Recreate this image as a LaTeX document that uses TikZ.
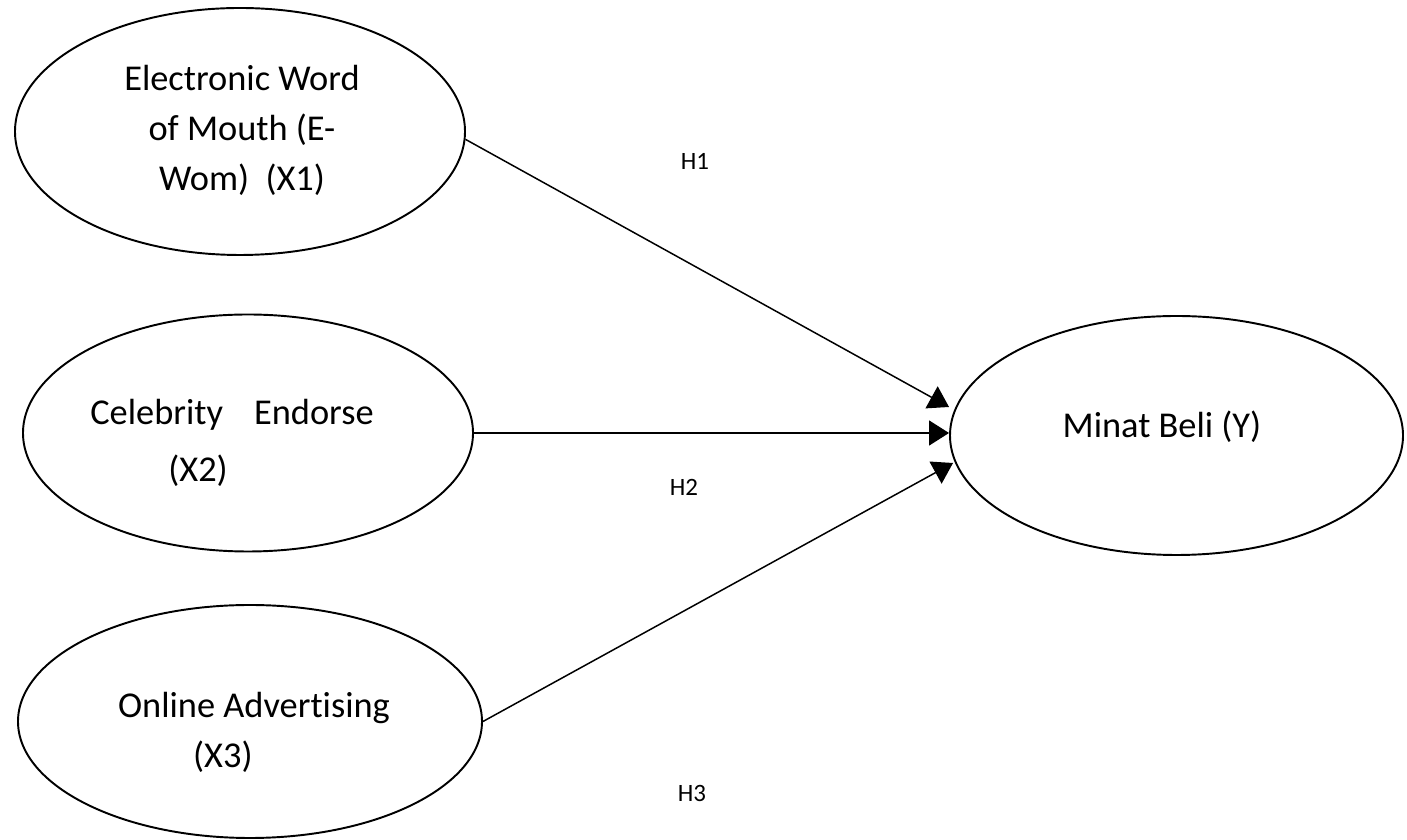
\documentclass[tikz,border=0pt]{standalone}
\usepackage{fontspec}
\setmainfont{Carlito}[Ligatures=NoCommon]
\usetikzlibrary{shapes.geometric,arrows.meta}

\begin{document}
\begin{tikzpicture}[
  latent/.style={draw=black, line width=1.1pt, ellipse, inner sep=0pt},
  vartext/.style={font=\fontsize{20.7pt}{28.45pt}\selectfont, inner sep=0pt},
  hyp/.style={font=\fontsize{14.2pt}{17pt}\selectfont, inner sep=0pt},
  path/.style={line width=0.85pt, -{Triangle[length=0.4cm,width=0.5cm]}}]
\useasboundingbox (0,0) rectangle (28.14,16.8);
\node[latent, minimum width=9.0cm, minimum height=4.94cm] (x1) at (4.8,14.17) {};
\node[latent, minimum width=9.0cm, minimum height=4.74cm] (x2) at (4.96,8.14) {};
\node[latent, minimum width=9.28cm, minimum height=4.66cm] (x3) at (5.0,2.37) {};
\node[latent, minimum width=9.06cm, minimum height=4.78cm] (y) at (23.53,8.09) {};
\node[vartext, align=center] (t1) at (4.84,14.2) {Electronic Word\\of Mouth (E-\\Wom)\ \ (X1)};
\node[vartext, align=left] (t2) at (4.64,7.95) {Celebrity\hspace{0.62cm}Endorse\\[0.14cm]\hspace*{1.56cm}(X2)};
\node[vartext, align=left] (t3) at (5.08,2.16) {Online Advertising\\\hspace*{1.5cm}(X3)};
\node[vartext] (ty) at (23.24,8.26) {Minat Beli (Y)};
\draw[path] (x1.-2) -- ([yshift=0.57cm]y.west);
\draw[path] (x2.east) -- ([yshift=0.05cm]y.west);
\draw[path] (x3.east) -- ([xshift=0.08cm,yshift=-0.55cm]y.west);
\node[hyp] (h1) at (13.9,13.58) {H1};
\node[hyp] (h2) at (13.68,7.06) {H2};
\node[hyp] (h3) at (13.84,0.94) {H3};
\end{tikzpicture}
\end{document}
